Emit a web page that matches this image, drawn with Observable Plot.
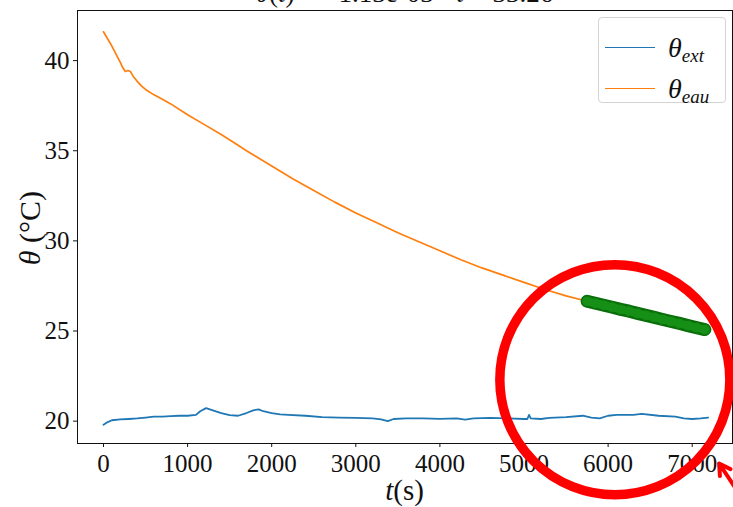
<!DOCTYPE html>
<html>
<head>
<meta charset="utf-8">
<script src="https://cdn.jsdelivr.net/npm/d3@7"></script>
<script src="https://cdn.jsdelivr.net/npm/@observablehq/plot@0.6"></script>
<style>
  html, body { margin: 0; padding: 0; background: #fff; }
  #wrap { position: relative; width: 733px; height: 507px; overflow: hidden; font-family: "Liberation Serif", serif; color: #111; }
  #wrap svg { position: absolute; left: 0; top: 0; }
  .txt { position: absolute; white-space: nowrap; line-height: 1; }
  .m { font-style: italic; }
  #title { left: 0; width: 809px; text-align: center; top: -20px; font-size: 27px; }
  #xlabel { left: 0; width: 809px; text-align: center; top: 476px; font-size: 29px; }
  #ylabel { left: 30px; top: 228px; font-size: 30px; transform: translate(-50%, -50%) rotate(-90deg); }
  #legend { position: absolute; left: 598px; top: 17px; width: 126px; height: 84px; border: 1px solid #d4d4d4; border-radius: 4px; background: rgba(255,255,255,0.85); }
  .lg-row { position: absolute; left: 0; width: 126px; height: 30px; }
  .lg-line { position: absolute; left: 6px; width: 50px; top: 14px; height: 0; border-top: 1.8px solid; }
  .lg-lab { position: absolute; left: 69px; top: -1px; font-size: 28px; font-style: italic; }
  .lg-lab sub { font-size: 19px; vertical-align: -5px; }
</style>
</head>
<body>
<div id="wrap">
  <div id="chart"></div>
  <div id="title" class="txt"><span class="m">θ</span>(<span class="m">t</span>) = −1.13e-03 · <span class="m">t</span> + 33.26</div>
  <div id="xlabel" class="txt"><span class="m">t</span>(s)</div>
  <div id="ylabel" class="txt"><span class="m">θ</span> (°C)</div>
  <div id="legend">
    <div class="lg-row" style="top:15px"><div class="lg-line" style="border-color:#1f77b4"></div><div class="lg-lab">θ<sub>ext</sub></div></div>
    <div class="lg-row" style="top:56px"><div class="lg-line" style="border-color:#ff7f0e"></div><div class="lg-lab">θ<sub>eau</sub></div></div>
  </div>
</div>
<script>
// Water temperature (θ_eau) during cooling, in seconds and °C
const tEau = [0, 50, 100, 150, 200, 230, 260, 290, 320, 350, 400, 450, 500, 600, 700, 800, 1000, 1200, 1400, 1600, 1700,
  2000, 2250, 2500, 2750, 3000, 3250, 3500, 3750, 4000, 4250, 4500, 4750, 5000, 5250, 5500,
  5750, 5850, 5950, 6050, 6150, 6250, 6350, 6450, 6550, 6650, 6750, 6850, 6950, 7050, 7150];
const thetaEau = [41.6, 41.2, 40.8, 40.35, 39.9, 39.6, 39.4, 39.45, 39.4, 39.15, 38.85, 38.6, 38.4, 38.1, 37.85, 37.6, 37.0, 36.45, 35.9, 35.3, 35.0,
  34.15, 33.45, 32.8, 32.15, 31.55, 31.0, 30.45, 29.95, 29.45, 28.95, 28.5, 28.1, 27.7, 27.3, 26.95,
  26.65, 26.54, 26.43, 26.32, 26.2, 26.1, 25.98, 25.87, 25.76, 25.64, 25.53, 25.42, 25.3, 25.19, 25.08];

// Room temperature (θ_ext)
const tExt = [0, 50, 100, 200, 300, 400, 500, 600, 700, 800, 900, 1000, 1100, 1150, 1220, 1300, 1400, 1500, 1600, 1700, 1780, 1845, 1900,
  2000, 2100, 2200, 2400, 2600, 2800, 3000, 3200, 3300, 3380, 3450, 3600, 3800, 4000, 4200, 4300, 4400, 4600, 4800,
  5000, 5040, 5060, 5080, 5200, 5300, 5500, 5700, 5800, 5900, 6000, 6100, 6300, 6400, 6600, 6800, 6900, 7000, 7100, 7190];
const thetaExt = [19.8, 19.95, 20.05, 20.1, 20.12, 20.15, 20.2, 20.25, 20.25, 20.28, 20.3, 20.3, 20.35, 20.55, 20.72, 20.6, 20.45, 20.33, 20.3, 20.45, 20.6, 20.65, 20.55,
  20.45, 20.38, 20.35, 20.3, 20.22, 20.2, 20.18, 20.15, 20.1, 20.0, 20.12, 20.15, 20.15, 20.13, 20.15, 20.08, 20.15, 20.18, 20.15,
  20.12, 20.12, 20.35, 20.15, 20.12, 20.18, 20.22, 20.3, 20.2, 20.15, 20.3, 20.35, 20.35, 20.4, 20.3, 20.25, 20.15, 20.12, 20.15, 20.2];

// Start of the interval used for the linear fit
const fitStart = 5750;

// Tick values
const xTicks = [0, 1000, 2000, 3000, 4000, 5000, 6000, 7000];
const yTicks = [20, 25, 30, 35, 40];

// Red highlight around the fitted interval, and the arrow toward the last tick
const ringCenter = [{t: 6080, theta: 22.3}];
const arrowPath = [{t1: 7570, theta1: 15.9, t2: 7320, theta2: 17.65}];

const eau = tEau.map((t, i) => ({t, theta: thetaEau[i]}));
const ext = tExt.map((t, i) => ({t, theta: thetaExt[i]}));
const fitPts = eau.filter(d => d.t >= fitStart);

const chart = Plot.plot({
  width: 733,
  height: 507,
  marginLeft: 77,
  marginRight: 1,
  marginTop: 10,
  marginBottom: 64,
  style: {fontFamily: "Liberation Serif, serif", fontSize: "25px", color: "#111", background: "transparent"},
  x: {domain: [-309, 7479], ticks: xTicks, tickSize: 4, tickPadding: 7, tickFormat: d => String(d), label: null},
  y: {domain: [18.76, 42.78], ticks: yTicks, tickSize: 4, tickPadding: 4, tickFormat: d => String(d), label: null},
  marks: [
    Plot.frame({stroke: "#111", strokeWidth: 1}),
    Plot.line(ext, {x: "t", y: "theta", stroke: "#1f77b4", strokeWidth: 1.8}),
    Plot.line(eau, {x: "t", y: "theta", stroke: "#ff7f0e", strokeWidth: 1.7}),
    Plot.line(fitPts, {x: "t", y: "theta", stroke: "#0a6e0a", strokeWidth: 13, strokeLinecap: "round"}),
    Plot.dot(fitPts, {x: "t", y: "theta", r: 5.5, fill: "#138a13", stroke: "#0a6e0a", strokeWidth: 1}),
    Plot.line(fitPts, {x: "t", y: "theta", stroke: "#168f16", strokeWidth: 8, strokeLinecap: "round"}),
    Plot.dot(ringCenter, {x: "t", y: "theta", r: 115, fill: "none", stroke: "#ff0000", strokeWidth: 9.5}),
    Plot.arrow(arrowPath, {x1: "t1", y1: "theta1", x2: "t2", y2: "theta2", stroke: "#ff0000", strokeWidth: 4, headLength: 14})
  ]
});
document.getElementById("chart").appendChild(chart);
</script>
</body>
</html>
